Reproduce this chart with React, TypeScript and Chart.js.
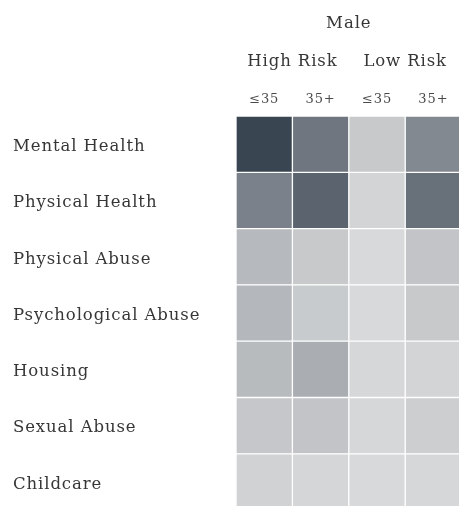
import React, { useEffect, useRef } from "react";
import { Chart, registerables } from "chart.js";
Chart.register(...registerables);

const rowLabels = ["Mental Health", "Physical Health", "Physical Abuse", "Psychological Abuse", "Housing", "Sexual Abuse", "Childcare"];
const groupLabel = "Male";
const riskLabels = ["High Risk", "Low Risk"];
const ageLabels = ["≤35", "35+", "≤35", "35+"];
// intensity (0-100) for each column, rows in the order of rowLabels
const highRiskUnder35 = [95, 57, 22, 23, 21, 13, 6];
const highRiskOver35 = [64, 76, 12, 11, 29, 15, 4];
const lowRiskUnder35 = [12, 5, 2, 2, 3, 3, 2];
const lowRiskOver35 = [52, 68, 15, 12, 5, 9, 3];
const columns = [highRiskUnder35, highRiskOver35, lowRiskUnder35, lowRiskOver35];

const LIGHT = [219, 220, 221];
const DARK = [50, 61, 75];
function shade(v: number) {
  const t = Math.max(0, Math.min(1, v / 100));
  const c = LIGHT.map((l, i) => Math.round(l + (DARK[i] - l) * t));
  return `rgb(${c[0]},${c[1]},${c[2]})`;
}

const FONT_FAMILY = "'DejaVu Serif', serif";
const TEXT = "#363636";

const spacingPlugin = {
  id: "letterSpacing",
  beforeDraw(chart: any) { chart.ctx.letterSpacing = "0.9px"; },
  afterDraw(chart: any) { chart.ctx.letterSpacing = "0px"; },
};

export default function App() {
  const ref = useRef<HTMLCanvasElement>(null);
  useEffect(() => {
    document.body.style.margin = "0";
    const canvas = ref.current!;
    const chart = new Chart(canvas, {
      type: "bar",
      data: {
        labels: rowLabels,
        datasets: columns.map((col, ci) => ({
          label: ageLabels[ci],
          data: col.map(() => 1),
          backgroundColor: col.map(shade),
          borderColor: "#ffffff",
          borderWidth: 1,
          borderSkipped: false,
          barPercentage: 1,
          categoryPercentage: 1,
        })),
      },
      plugins: [spacingPlugin],
      options: {
        indexAxis: "y",
        responsive: false,
        maintainAspectRatio: false,
        devicePixelRatio: 1,
        animation: false,
        layout: { padding: { left: 13, right: 8.4, top: 0, bottom: 9.2 } },
        plugins: { legend: { display: false }, tooltip: { enabled: false } },
        scales: {
          y: {
            type: "category",
            position: "left",
            stacked: true,
            grid: { display: false, drawTicks: false },
            border: { display: false },
            ticks: { crossAlign: "far", color: TEXT, font: { family: FONT_FAMILY, size: 16.5 }, padding: 0, labelOffset: 2.5 },
            afterFit: (s: any) => { s.width = 223; },
          },
          x: {
            type: "linear",
            position: "top",
            stacked: true,
            min: 0,
            max: 4,
            weight: 0,
            grid: { display: false, drawTicks: false },
            border: { display: false },
            afterBuildTicks: (s: any) => { s.ticks = ageLabels.map((_, i) => ({ value: i + 0.5 })); },
            ticks: {
              color: "#4a4a4a",
              font: { family: FONT_FAMILY, size: 13 },
              padding: 9,
              maxRotation: 0,
              autoSkip: false,
              callback: (_v: any, i: number) => ageLabels[i],
            },
            afterFit: (s: any) => { s.height = 36; },
          },
          x2: {
            type: "linear",
            position: "top",
            min: 0,
            max: 4,
            weight: 1,
            grid: { display: false, drawTicks: false },
            border: { display: false },
            afterBuildTicks: (s: any) => { s.ticks = riskLabels.map((_, i) => ({ value: i * 2 + 1 })); },
            ticks: {
              color: TEXT,
              font: { family: FONT_FAMILY, size: 16.5 },
              padding: 8,
              maxRotation: 0,
              autoSkip: false,
              callback: (_v: any, i: number) => riskLabels[i],
            },
            title: {
              display: true,
              text: groupLabel,
              color: TEXT,
              font: { family: FONT_FAMILY, size: 16.5 },
              padding: { top: 14, bottom: 0 },
            },
            afterFit: (s: any) => { s.height = 80; },
          },
        },
      } as any,
    });
    return () => chart.destroy();
  }, []);
  return (
    <div style={{ width: 459, height: 506, overflow: "hidden" }}>
      <canvas ref={ref} width={470} height={520} style={{ display: "block" }} />
    </div>
  );
}
